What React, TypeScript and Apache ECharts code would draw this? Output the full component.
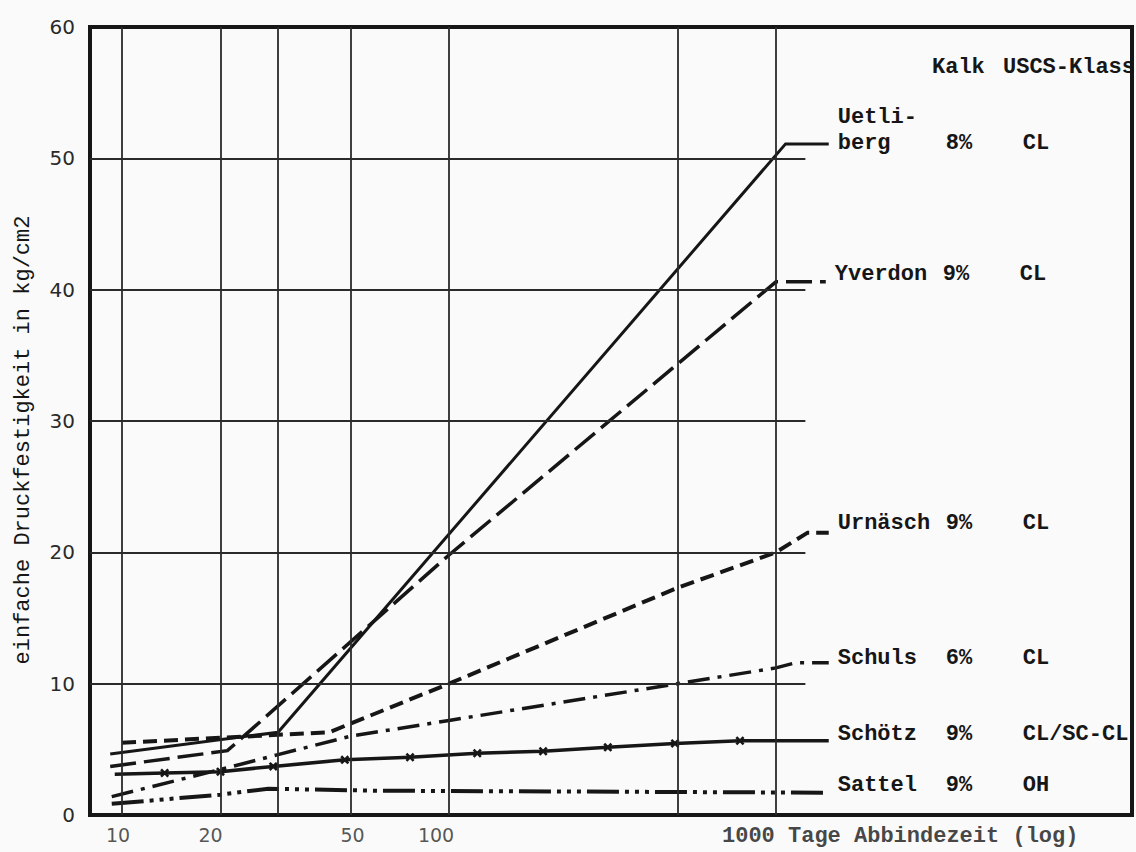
import { useEffect, useRef } from 'react';
import * as echarts from 'echarts';

// ---- data (days, kg/cm2) ----
const uetliberg = [[9.2, 4.65], [30, 6.3], [1070, 51.1], [1450, 51.1]];
const yverdon = [[9.2, 3.7], [21, 4.9], [100, 19.8], [1000, 40.6], [1420, 40.6]];
const urnaesch = [[10, 5.5], [43, 6.3], [100, 10.0], [500, 17.3], [1000, 20.0], [1250, 21.5], [1450, 21.5]];
const schuls = [[9.3, 1.4], [21, 3.6], [30, 4.6], [50, 6.0], [100, 7.2], [500, 10.0], [1000, 11.2], [1150, 11.6], [1450, 11.6]];
const schoetz = [[9.5, 3.1], [13.5, 3.2], [20, 3.3], [29, 3.7], [48, 4.2], [76, 4.4], [122, 4.7], [194, 4.85], [306, 5.15], [491, 5.45], [776, 5.65], [1450, 5.65]];
const schoetzMarked = [false, true, true, true, true, true, true, true, true, true, true, false];
const sattel = [[9.3, 0.85], [20, 1.55], [28, 2.0], [60, 1.85], [1450, 1.7]];

const labelNames = ['Uetli-\nberg', 'Yverdon', 'Urnäsch', 'Schuls', 'Schötz', 'Sattel'];
const kalk = ['8%', '9%', '9%', '6%', '9%', '9%'];
const uscs = ['CL', 'CL', 'CL', 'CL', 'CL/SC-CL', 'OH'];

const verticalGrid = [10, 20, 30, 50, 100, 500, 1000];
const horizontalGrid = [10, 20, 30, 40, 50];
const hGridEnd = 1230;
const xMin = 7.98;
const xMax = 12270;

const xTickValues = [10, 20, 50, 100, 1000];
const xTickTexts = ['10', '20', '50', '100', '1000 Tage Abbindezeit (log)'];

const MONO = '"Liberation Mono", "DejaVu Sans Mono", monospace';
const SANS = '"DejaVu Sans", sans-serif';
const INK = '#161616';

const richStyles = {
  n: { width: 108, fontFamily: MONO, fontSize: 22, fontWeight: 'bold', color: INK, lineHeight: 26 },
  k: { width: 77, fontFamily: MONO, fontSize: 22, fontWeight: 'bold', color: INK, lineHeight: 26 },
  u: { fontFamily: MONO, fontSize: 22, fontWeight: 'bold', color: INK, lineHeight: 26 },
};

function labelFor(i: number) {
  const parts = labelNames[i].split('\n');
  if (parts.length > 1) {
    return `{n|${parts[0]}}\n{n|${parts[1]}}{k|${kalk[i]}}{u|${uscs[i]}}`;
  }
  return `{n|${parts[0]}}{k|${kalk[i]}}{u|${uscs[i]}}`;
}

const xMarker = 'path://M0,2 L2,0 L5,3 L8,0 L10,2 L7,5 L10,8 L8,10 L5,7 L2,10 L0,8 L3,5 Z';

function mkLine(name: string, data: any[], idx: number, dash: any, width: number, offY: number) {
  return {
    name,
    type: 'line',
    data,
    z: 3,
    showSymbol: false,
    symbol: 'none',
    lineStyle: { color: INK, width, type: dash, cap: 'butt', join: 'miter' },
    endLabel: {
      show: true,
      distance: 9,
      offset: [0, offY],
      formatter: () => labelFor(idx),
      rich: richStyles,
    },
    emphasis: { disabled: true },
  };
}

export default function App() {
  const ref = useRef<HTMLDivElement>(null);

  useEffect(() => {
    if (!ref.current) return;
    const chart = echarts.init(ref.current, null, { renderer: 'svg' });

    const gridLines: any[] = [];
    verticalGrid.forEach((d) => gridLines.push([{ coord: [d, 0] }, { coord: [d, 60] }]));
    horizontalGrid.forEach((v) => gridLines.push([{ coord: [xMin, v] }, { coord: [hGridEnd, v] }]));

    const tickOffsets = [-4, -10, 2, -13, -54];
    const tickData = xTickValues.map((v, i) => {
      const isLast = i === xTickValues.length - 1;
      return {
        value: [v, 0],
        label: {
          show: true,
          position: 'bottom',
          distance: 10,
          align: isLast ? 'left' : 'center',
          offset: [tickOffsets[i], 0],
          formatter: xTickTexts[i],
          fontFamily: isLast ? MONO : SANS,
          fontSize: isLast ? 22 : 19,
          fontWeight: isLast ? 'bold' : 'normal',
          color: isLast ? INK : '#2a2a2a',
        },
      };
    });

    const schoetzData = schoetz.map((p, i) =>
      schoetzMarked[i] ? { value: p } : { value: p, symbol: 'none' }
    );

    const option: any = {
      animation: false,
      backgroundColor: '#fafafa',
      grid: {
        left: 90,
        top: 27,
        right: 4,
        bottom: 37,
        show: true,
        borderColor: INK,
        borderWidth: 4,
        backgroundColor: 'transparent',
      },
      xAxis: {
        type: 'log',
        logBase: 10,
        min: xMin,
        max: xMax,
        axisLine: { show: false },
        axisTick: { show: false },
        axisLabel: { show: false },
        splitLine: { show: false },
      },
      yAxis: {
        type: 'value',
        min: 0,
        max: 60,
        interval: 10,
        axisLine: { show: false },
        axisTick: { show: false },
        splitLine: { show: false },
        axisLabel: { fontFamily: SANS, fontSize: 20, color: '#2a2a2a', margin: 15 },
        name: 'einfache Druckfestigkeit in kg/cm2',
        nameLocation: 'middle',
        nameGap: 56,
        nameTextStyle: { fontFamily: MONO, fontSize: 22, color: INK, padding: [0, 38, 0, 0] },
      },
      graphic: [
        { type: 'text', left: 932, top: 56, style: { text: 'Kalk', font: `bold 22px ${MONO}`, fill: INK } },
        { type: 'text', left: 1003, top: 56, style: { text: 'USCS-Klass', font: `bold 22px ${MONO}`, fill: INK } },
      ],
      series: [
        {
          name: 'grid',
          type: 'scatter',
          data: [[100, 30]],
          symbolSize: 0,
          z: 1,
          silent: true,
          markLine: {
            silent: true,
            symbol: ['none', 'none'],
            label: { show: false },
            lineStyle: { color: '#2a2a2a', width: 1.8, type: 'solid' },
            emphasis: { disabled: true },
            data: gridLines,
          },
        },
        {
          name: 'ticks',
          type: 'scatter',
          data: tickData,
          symbolSize: 0,
          clip: false,
          silent: true,
          z: 2,
        },
        mkLine('Uetliberg', uetliberg, 0, 'solid', 3, -13),
        mkLine('Yverdon', yverdon, 1, [26, 8], 3.5, -7),
        mkLine('Urnäsch', urnaesch, 2, [14, 7], 4, -9),
        mkLine('Schuls', schuls, 3, [22, 8, 4, 8], 3.5, -4),
        {
          ...mkLine('Schötz', schoetzData, 4, 'solid', 3.5, -6),
          showSymbol: true,
          symbol: xMarker,
          symbolSize: 9,
          itemStyle: { color: INK },
        },
        mkLine('Sattel', sattel, 5, [32, 6, 4, 6, 4, 6, 4, 6], 4, -7),
      ],
    };

    chart.setOption(option);
    return () => chart.dispose();
  }, []);

  return (
    <div
      ref={ref}
      style={{ position: 'fixed', left: 0, top: 0, width: 1136, height: 852, background: '#fafafa' }}
    />
  );
}
